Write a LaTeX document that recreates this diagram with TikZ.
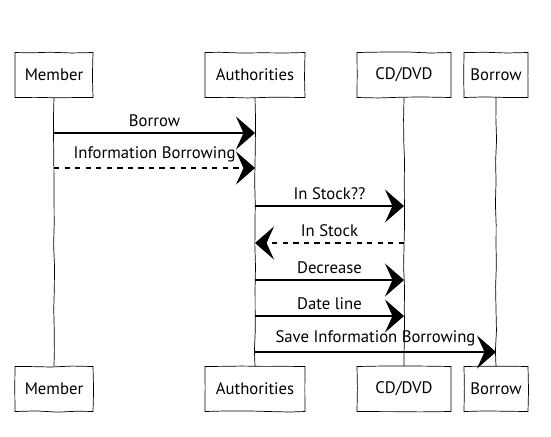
\documentclass[tikz,border=0pt]{standalone}
\usepackage{fontspec}
\setmainfont{PT Sans}
\usetikzlibrary{arrows.meta, decorations.pathmorphing}

\begin{document}
\begin{tikzpicture}[
    x=0.2mm, y=-0.2mm,
    sketch/.style={decorate, decoration={random steps, segment length=12pt, amplitude=0.35pt}},
    actor/.style={draw, sketch, minimum height=9mm, inner sep=2pt, font=\fontsize{9.5}{11}\selectfont},
    life/.style={sketch},
    msg/.style={-{Stealth[length=3.8mm, width=6.6mm, inset=1.5mm]}, semithick},
    reply/.style={msg, dashed},
    lbl/.style={midway, above=0pt, font=\fontsize{9.5}{11}\selectfont}
]
\pgfmathsetseed{7}
\useasboundingbox (0,0) rectangle (551,436);

\node[actor, minimum width=15.6mm] (memTop) at (54,75) {Member};
\node[actor, minimum width=20mm] (authTop) at (255,75) {Authorities};
\node[actor, minimum width=18.8mm] (cdTop) at (404,75) {CD/DVD};
\node[actor, minimum width=12.8mm] (borTop) at (496,75) {Borrow};

\node[actor, minimum width=15.6mm] (memBot) at (54,389) {Member};
\node[actor, minimum width=20mm] (authBot) at (255,389) {Authorities};
\node[actor, minimum width=18.8mm] (cdBot) at (404,389) {CD/DVD};
\node[actor, minimum width=12.8mm] (borBot) at (496,389) {Borrow};

% lifelines
\draw[life] (memTop) -- (memBot);
\draw[life] (authTop) -- (authBot);
\draw[life] (cdTop) -- (cdBot);
\draw[life] (borTop) -- (borBot);

% message rows
\foreach \i/\y in {1/133, 2/168, 3/206, 4/243, 5/280, 6/316, 7/352} {
    \coordinate (mem\i) at (memTop |- 0,\y);
    \coordinate (auth\i) at (authTop |- 0,\y);
    \coordinate (cd\i) at (cdTop |- 0,\y);
    \coordinate (bor\i) at (borTop |- 0,\y);
}

\draw[msg] (mem1) -- node[lbl] {Borrow} (auth1);
\draw[reply] (mem2) -- node[lbl] {Information Borrowing} (auth2);
\draw[msg] (auth3) -- node[lbl] {In Stock??} (cd3);
\draw[reply] (cd4) -- node[lbl] {In Stock} (auth4);
\draw[msg] (auth5) -- node[lbl] {Decrease} (cd5);
\draw[msg] (auth6) -- node[lbl] {Date line} (cd6);
\draw[msg] (auth7) -- node[lbl] {Save Information Borrowing} (bor7);
\end{tikzpicture}
\end{document}
